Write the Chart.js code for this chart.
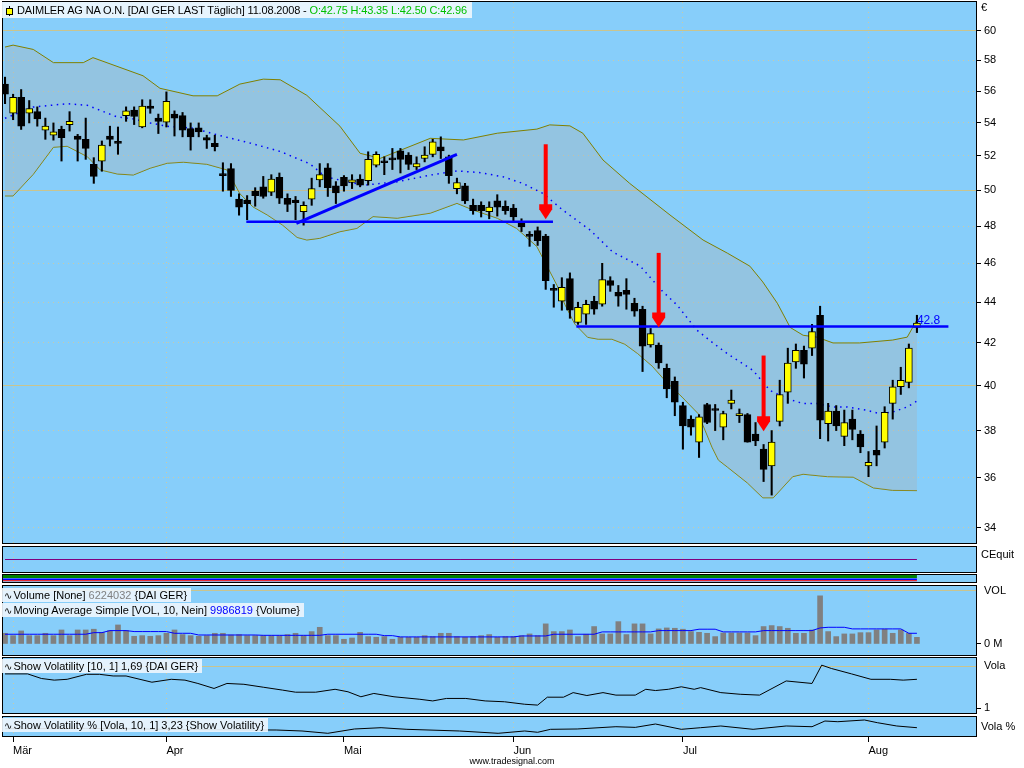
<!DOCTYPE html>
<html>
<head>
<meta charset="utf-8">
<title>DAIMLER AG NA O.N.</title>
<script src="https://cdn.jsdelivr.net/npm/chart.js@4.4.1/dist/chart.umd.min.js"></script>
<style>
  body { margin: 0; width: 1024px; height: 768px; background: #fff; position: relative; overflow: hidden;
         font-family: "Liberation Sans", Arial, sans-serif; font-size: 11px; color: #000; }
  .panel { position: absolute; left: 0; width: 1024px; }
  .title { position: absolute; left: 2px; height: 14px; line-height: 14px; padding: 0 4px 0 2px;
           background: rgba(238, 246, 253, 0.9); white-space: nowrap; z-index: 5; }
  .side { position: absolute; left: 981px; white-space: nowrap; z-index: 5; }
  .wave { font-family: "DejaVu Sans"; font-size: 10px; margin-right: 1px; }
  #mainTitle { position: absolute; left: 2px; top: 2px; height: 16px; line-height: 16px; padding: 0 5px 0 15px;
               background: rgba(235, 245, 253, 0.95); white-space: nowrap; z-index: 5; letter-spacing: -0.15px; }
  #icon { position: absolute; left: 7px; top: 4px; width: 1px; height: 10px; background: #000; }
  #icon:after { content: ""; position: absolute; left: -3px; top: 2px; width: 5px; height: 5px;
                background: #ff0; border: 1px solid #000; }
  #footer { position: absolute; left: 0; width: 1024px; top: 756px; text-align: center; font-size: 9px; }
</style>
</head>
<body>
<div class="panel" style="top:0;height:546px"><canvas id="mainChart"></canvas></div>
<div class="panel" style="top:545px;height:29px"><canvas id="equityChart"></canvas></div>
<div class="panel" style="top:574px;height:10px"><canvas id="stripeChart"></canvas></div>
<div class="panel" style="top:585px;height:71px"><canvas id="volumeChart"></canvas></div>
<div class="panel" style="top:657px;height:57px"><canvas id="volaChart"></canvas></div>
<div class="panel" style="top:716px;height:44px"><canvas id="volaPctChart"></canvas></div>

<div id="mainTitle"><span id="icon"></span>DAIMLER AG NA O.N. [DAI GER LAST Täglich] 11.08.2008 - <span style="color:#00c000">O:42.75 H:43.35 L:42.50 C:42.96</span></div>
<div class="side" style="top:1px">€</div>
<div class="side" style="top:548px">CEquit</div>
<div class="title" style="top:588px"><span class="wave">∿</span>Volume [None] <span style="color:#808080">6224032</span> {DAI GER}</div>
<div class="title" style="top:603px"><span class="wave">∿</span>Moving Average Simple [VOL, 10, Nein] <span style="color:#0000ff">9986819</span> {Volume}</div>
<div class="title" style="top:659px"><span class="wave">∿</span>Show Volatility [10, 1] 1,69 {DAI GER}</div>
<div class="title" style="top:718px"><span class="wave">∿</span>Show Volatility % [Vola, 10, 1] 3,23 {Show Volatility}</div>
<div class="side" style="top:720px">Vola %</div>
<div id="footer">www.tradesignal.com</div>

<script>
// Daily candles, 29.02.2008 - 11.08.2008 (index 0..113)
const opens = [56.45,54.6,55.6,54.6,54.7,53.55,53.25,53.6,53.9,53.2,
  53.0,51.5,51.7,53.2,52.85,54.45,54.8,53.75,55.05,54.3,
  54.05,54.55,54.45,53.65,53.7,53.1,52.75,50.9,51.25,49.5,
  49.45,49.95,50.2,49.9,50.75,49.55,49.45,48.8,49.5,50.6,
  51.3,50.25,50.75,50.45,50.65,50.55,51.45,51.7,51.8,52.3,
  52.05,51.35,51.85,52.1,52.55,51.95,50.1,50.25,49.15,49.15,
  48.8,49.4,49.1,49.0,48.2,47.48,47.75,47.45,44.65,44.05,
  45.2,43.0,43.4,44.05,43.9,45.1,44.5,44.6,43.95,43.65,
  41.9,41.9,40.8,40.2,39.1,38.5,37.5,39.15,38.92,38.15,
  39.2,38.65,38.7,37.85,37.2,36.5,38.4,39.7,41.1,41.65,
  41.75,43.35,38.3,38.85,37.75,38.5,37.85,36.5,37.15,37.5,
  39.2,39.95,40.15,42.75];
const highs = [56.9,55.8,56.1,55.4,55.0,54.3,54.0,53.8,54.7,53.3,
  54.3,51.9,52.9,53.8,53.75,55.0,55.0,55.45,55.45,54.55,
  55.95,54.75,54.65,54.0,54.0,53.25,53.25,51.6,51.55,49.8,
  49.7,50.15,50.8,50.9,51.0,49.8,49.65,49.35,50.7,51.55,
  51.55,50.5,50.85,50.9,50.9,52.25,52.25,51.95,52.45,52.45,
  52.2,51.95,52.55,53.0,53.15,52.05,50.7,50.4,49.5,49.35,
  49.35,49.75,49.4,49.2,48.4,47.7,47.95,47.55,44.9,45.25,
  45.5,44.0,44.1,44.3,46.0,45.3,44.85,45.2,44.2,43.8,
  42.7,42.0,41.0,40.4,39.25,38.65,38.7,39.2,39.15,38.85,
  39.8,38.95,38.75,38.35,37.4,38.0,40.25,41.75,41.95,41.85,
  42.9,43.8,39.2,39.1,38.9,38.9,38.0,37.1,38.2,39.05,
  40.25,40.85,41.95,43.35];
const lows = [55.2,54.2,53.6,54.0,53.8,53.0,52.95,51.7,53.5,51.7,
  51.8,50.4,51.1,52.6,52.1,54.1,53.9,53.7,54.6,53.35,
  53.75,53.2,53.15,52.35,53.15,52.45,52.3,49.95,49.65,48.6,
  48.35,49.1,49.55,49.7,49.25,48.8,48.35,48.05,49.15,50.2,
  49.65,49.25,49.95,50.1,50.2,50.3,51.35,50.9,51.2,51.0,
  51.2,51.2,51.65,51.95,51.85,50.4,49.8,49.25,48.65,48.5,
  48.4,48.55,48.65,48.25,47.7,46.9,46.95,44.65,43.75,43.6,
  43.2,42.9,42.9,43.4,43.8,44.55,43.8,43.65,43.3,40.65,
  41.8,40.8,39.45,38.65,37.2,37.8,36.85,38.3,38.0,37.6,
  38.95,38.35,37.5,37.35,35.85,35.3,38.2,39.2,40.8,40.35,
  41.4,37.65,37.55,38.0,37.35,37.6,37.05,36.05,36.5,37.25,
  38.5,39.6,39.9,42.5];
const closes = [55.8,55.6,53.8,54.9,54.25,53.8,53.45,53.1,54.1,53.0,
  52.45,50.8,52.65,53.0,52.75,54.75,54.4,55.05,54.9,54.1,
  55.35,54.3,53.55,53.15,53.45,52.95,52.55,50.85,50.0,49.05,
  49.25,49.7,49.65,50.65,49.55,49.2,49.3,49.15,50.1,50.9,
  50.15,49.85,50.25,50.6,50.3,51.8,52.1,51.6,51.77,51.8,
  51.5,51.55,52.05,52.85,52.3,50.85,50.45,49.4,48.85,48.85,
  49.05,49.05,48.85,48.5,47.95,47.44,47.2,45.1,44.6,44.75,
  43.6,43.75,43.9,43.65,45.15,44.85,44.3,44.4,43.55,41.85,
  42.45,41.05,39.85,39.25,38.2,38.15,38.6,38.35,38.88,38.75,
  39.35,38.75,37.5,37.55,36.35,37.5,39.6,41.05,41.65,41.0,
  42.55,38.45,38.85,38.2,38.35,38.05,37.3,36.65,36.95,38.8,
  39.95,40.25,41.75,42.96];

// Bollinger bands and their middle line (candle index, price)
const upperIdx = [0,1,3.5,6,9.7,10.9,17.1,19.2,23.3,26.3,29.1,32,34.1,37.4,41.5,44,46.5,52.7,56.8,61,
  65.9,67.5,70,71.6,74.1,77.4,82.4,86.5,89.5,92.3,93.9,95.7,97.3,98.9,100.6,102.6,105.9,110,111.8,113];
const upperVal = [58.89,59.02,58.73,57.85,57.85,58.18,56.99,56.18,55.7,55.7,56.45,56.77,56.73,55.73,53.8,52.16,51.86,53.06,52.96,53.37,
  53.62,53.88,53.82,53.37,51.76,50.4,48.61,47.24,46.54,45.85,45.03,43.95,42.75,42.37,42.28,42.0,42.0,42.14,42.28,43.12];
const lowerIdx = [0,1,3.5,6,7.7,10.2,11.8,13.9,15.9,18,20.1,22.1,25,27.5,29.1,30.7,32.5,34.4,36.2,37.4,
  39,41.5,43.6,45.6,48.6,52.7,56,58,61,63.4,65.9,68.4,69.4,70.6,72.2,73.5,75.2,76.8,78.4,80.2,
  81.8,83.9,85.9,87.6,88.4,89.5,92,93.9,95.2,97.6,98.9,101.9,105.1,107.6,110,113];
const lowerVal = [49.68,49.68,50.92,52.52,52.58,51.96,51.18,50.94,50.88,51.28,51.57,51.63,51.51,51.18,49.81,49.07,48.61,48.05,47.38,47.24,
  47.33,47.69,47.87,48.52,48.43,48.71,49.26,48.89,48.43,47.87,46.89,44.86,43.87,42.92,42.27,42.18,42.18,41.94,41.49,40.9,
  40.23,39.48,38.74,37.29,36.74,36.45,35.79,35.19,35.19,36.05,36.15,36.05,36.03,35.59,35.49,35.48];
const maIdx = [0,3.5,7.7,10.2,13.9,15.9,18,20.1,23.3,26.3,30.4,34.1,37.8,39.7,41.5,44.4,48.6,52.7,56,58.9,
  61.7,64.2,66.7,69.1,72.5,75.3,78.7,81.5,83.3,85.7,87.4,89.5,92.7,94.8,96.9,98.9,100.6,102.6,104.3,106.8,
  108.4,110,111.8,113];
const maVal = [54.29,54.99,55.2,55.1,54.37,54.25,54.0,53.79,53.68,53.27,52.77,52.27,51.53,50.78,50.59,50.29,50.49,50.88,51.12,51.02,
  50.78,50.39,49.81,48.89,47.78,46.6,45.86,44.54,43.85,42.63,42.1,41.49,40.7,39.78,39.41,39.19,39.19,39.04,39.04,38.89,
  38.74,38.81,39.04,39.3];

// Drawn lines and arrows
const trendIdx = [36.1, 56.0];
const trendVal = [48.15, 52.1];
const supportIdx = [29.9, 67.9];
const supportVal = 48.24;
const resistIdx = [70.8, 116.9];
const resistVal = 42.8;
const resistLabelIdx = 113.0;
const arrowIdx = [67, 81, 94];
const arrowTop = [52.7, 46.55, 41.4];
const arrowTip = [48.37, 42.75, 37.97];

// Volume (millions) and its 10-day average
const volume = [10.0,7.8,12.2,7.8,7.8,10.0,7.8,13.1,7.8,13.1,
  13.1,13.8,10.9,12.5,17.8,12.5,7.2,7.8,7.2,7.8,
  10.0,13.1,8.8,7.8,7.2,7.8,10.0,10.0,8.4,8.8,
  7.8,7.8,7.8,7.8,7.8,8.8,10.0,7.8,11.6,15.6,
  7.8,7.8,4.4,5.6,10.9,6.9,6.3,6.9,4.4,6.3,
  6.3,6.3,7.8,6.9,10.0,10.0,6.9,6.3,6.9,7.8,
  8.8,6.3,6.9,6.9,7.8,9.4,7.8,18.8,11.6,11.6,
  13.1,6.9,9.1,16.3,9.4,9.4,20.9,8.8,18.8,18.8,
  9.4,14.1,15.0,14.7,13.8,11.6,10.9,10.0,6.9,10.3,
  10.3,10.3,10.3,7.8,16.3,17.2,16.3,14.7,10.0,10.0,
  13.1,45.0,11.6,6.9,9.4,9.4,10.6,10.6,13.1,13.8,
  10.0,13.1,10.0,6.2];
const volumeMA = [9.1,9.1,9.1,9.1,9.1,9.1,9.1,9.1,9.1,9.1,
  9.1,10.6,10.6,12.5,12.5,12.5,11.6,11.6,11.6,11.6,
  11.6,10.0,10.0,10.0,8.4,8.4,8.4,8.4,8.4,8.4,
  8.4,8.4,8.1,8.1,8.1,8.1,8.1,8.1,8.1,8.1,
  9.1,9.1,9.1,9.1,9.1,9.1,9.1,7.8,7.8,6.6,
  6.6,6.6,6.6,6.6,6.6,6.6,6.6,6.6,6.6,6.6,
  6.6,6.6,6.6,6.6,7.5,7.5,7.5,7.5,9.1,9.1,
  9.1,9.1,9.1,9.1,11.3,11.3,11.3,11.3,11.3,11.3,
  11.3,12.5,12.5,12.5,12.5,12.5,13.8,13.8,13.8,11.3,
  11.3,11.3,11.3,11.3,12.5,12.5,12.5,12.5,12.5,12.5,
  12.5,15.0,15.6,15.6,15.6,14.1,14.1,14.1,14.1,14.1,
  14.1,14.1,10.0,10.0];

// Volatility panels
const volaIdx = [0,2.8,4.5,6.1,7.7,10.1,11.7,13.4,15,18.2,20.6,22.3,23.9,25.9,27.5,29.6,32,34.4,36,38.5,
  40.9,42.5,44.1,45.7,48.2,51.4,53,54.7,57.1,59.5,61.9,64.4,66,67.2,69.2,70.4,72.1,74.1,75.7,78.1,
  79.4,80.6,82.2,83.8,85.4,86.2,88.7,91.1,93.5,96.8,100,101.2,102.4,104.9,107.3,109.7,111.3,113];
const volaVal = [1.82,1.82,1.71,1.67,1.69,1.81,1.81,1.77,1.77,1.62,1.69,1.67,1.59,1.47,1.59,1.57,1.50,1.43,1.38,1.38,
  1.45,1.39,1.27,1.35,1.27,1.21,1.17,1.23,1.23,1.17,1.15,1.09,1.07,1.26,1.26,1.37,1.30,1.37,1.31,1.31,
  1.45,1.42,1.45,1.51,1.45,1.49,1.37,1.33,1.31,1.65,1.59,2.03,1.95,1.82,1.69,1.69,1.67,1.69];
const volaPctIdx = [0,10,20,28,33.6,36.8,40,43.3,46.6,49.8,56.3,61.1,64.4,66,67.6,70.9,75.7,78.1,80.6,83.8,
  86.2,88.7,92.7,96.8,100,101.6,103.2,106.5,108.1,110.5,113];
const volaPctVal = [2.9,3.0,2.7,2.5,2.46,2.13,1.36,2.8,3.23,2.69,2.13,1.36,2.13,1.7,2.69,2.8,3.56,3.34,4.46,2.69,
  3.23,3.8,2.69,3.8,3.56,5.46,5.23,5.8,4.9,3.8,3.23];

// Equity and signal stripe
const equityIdx = [0, 113];
const equityVal = [0.5, 0.5];
const stripeIdx = [-0.25, 113];
const stripeGreen = 3.14, stripeBlue = 1.54, stripeRed = 0.74;

// Axis ticks
const priceTicks = [34, 36, 38, 40, 42, 44, 46, 48, 50, 52, 54, 56, 58, 60];
const solidPrices = [40, 50, 60];
const monthIdx = [1, 20, 42, 63, 84, 107];
const monthNames = ['Mär', 'Apr', 'Mai', 'Jun', 'Jul', 'Aug'];
const volTicks = [0, 50];
const volaTicks = [1, 2];

const X_MIN = -0.25, X_MAX = 120.32;
const SKY = '#87CEFA';
const GRID_DOT = 'rgba(206,202,160,0.95)';
const GRID_SOLID = '#C9C48E';
const NONE = 'rgba(0,0,0,0)';

Chart.defaults.font.family = '"Liberation Sans", Arial, sans-serif';
Chart.defaults.font.size = 11;
Chart.defaults.color = '#000';
Chart.defaults.animation = false;
Chart.defaults.plugins.legend.display = false;
Chart.defaults.plugins.tooltip.enabled = false;
Chart.defaults.elements.point.radius = 0;
Chart.defaults.elements.line.tension = 0;

const pts = (xs, ys) => xs.map((x, k) => ({ x: x, y: Array.isArray(ys) ? ys[k] : ys }));

function noPad(s) { s.paddingLeft = 0; s.paddingRight = 0; s.paddingTop = 0; s.paddingBottom = 0; }

// panel background and black frame
const panelFrame = {
  id: 'panelFrame',
  beforeDraw(chart) {
    const { ctx, chartArea: a } = chart;
    ctx.save();
    ctx.fillStyle = SKY;
    ctx.fillRect(a.left, a.top, a.right - a.left, a.bottom - a.top);
    ctx.restore();
  },
  afterDraw(chart) {
    const { ctx, chartArea: a } = chart;
    ctx.save();
    ctx.strokeStyle = '#000';
    ctx.lineWidth = 1;
    ctx.strokeRect(a.left - 0.5, a.top - 0.5, a.right - a.left + 1, a.bottom - a.top + 1);
    ctx.restore();
  }
};

// red arrows and the level label
const annotations = {
  id: 'annotations',
  afterDatasetsDraw(chart) {
    const { ctx, scales: { x, y } } = chart;
    ctx.save();
    ctx.fillStyle = '#ff0000';
    arrowIdx.forEach((idx, k) => {
      const px = x.getPixelForValue(idx);
      const top = y.getPixelForValue(arrowTop[k]);
      const tip = y.getPixelForValue(arrowTip[k]);
      ctx.fillRect(px - 2, top, 4, tip - top - 12);
      ctx.beginPath();
      ctx.moveTo(px - 6.5, tip - 15);
      ctx.lineTo(px + 6.5, tip - 15);
      ctx.lineTo(px + 6.5, tip - 10);
      ctx.lineTo(px, tip);
      ctx.lineTo(px - 6.5, tip - 10);
      ctx.closePath();
      ctx.fill();
    });
    ctx.fillStyle = '#0000ff';
    ctx.font = '12px "Liberation Sans", Arial, sans-serif';
    ctx.textBaseline = 'alphabetic';
    ctx.fillText(String(resistVal), x.getPixelForValue(resistLabelIdx), y.getPixelForValue(resistVal) - 2);
    ctx.restore();
  }
};

function timeAxis(labels) {
  return {
    type: 'linear', min: X_MIN, max: X_MAX, offset: false,
    afterBuildTicks: s => { s.ticks = monthIdx.map(v => ({ value: v })); },
    afterFit: s => { s.height = labels ? 24 : 0; noPad(s); },
    ticks: {
      display: labels, autoSkip: false, maxRotation: 0, minRotation: 0, align: 'start', padding: 2,
      callback: v => monthNames[monthIdx.indexOf(v)]
    },
    grid: { color: GRID_DOT, offset: false, drawTicks: labels, tickLength: 6, tickColor: '#000' },
    border: { display: false, dash: [1, 4] }
  };
}

function rightAxis(opts) {
  return Object.assign({ position: 'right', afterFit: s => { s.width = 48; noPad(s); } }, opts);
}

function options(pad, scales) {
  return {
    responsive: true,
    maintainAspectRatio: false,
    layout: { autoPadding: false, padding: pad },
    scales: scales
  };
}

// main price panel
new Chart(document.getElementById('mainChart'), {
  type: 'bar',
  data: {
    datasets: [
      { type: 'line', label: 'Resistance', data: pts(resistIdx, resistVal), borderColor: '#0000ff', borderWidth: 2.5, order: 0 },
      { type: 'line', label: 'Support', data: pts(supportIdx, supportVal), borderColor: '#0000ff', borderWidth: 2.5, order: 0 },
      { type: 'line', label: 'Trend', data: pts(trendIdx, trendVal), borderColor: '#0000ff', borderWidth: 3, order: 0 },
      {
        type: 'bar', label: 'Body', data: opens.map((o, i) => ({ x: i, y: [o, closes[i]] })),
        backgroundColor: opens.map((o, i) => closes[i] >= o ? '#ffff00' : '#000000'),
        borderColor: '#000', borderWidth: 1, borderSkipped: false,
        barThickness: 7, minBarLength: 2, grouped: false, order: 1
      },
      {
        type: 'bar', label: 'Wick', data: highs.map((h, i) => ({ x: i, y: [lows[i], h] })),
        backgroundColor: '#000', borderWidth: 0, barThickness: 1.4, grouped: false, order: 2
      },
      { type: 'line', label: 'Middle', data: pts(maIdx, maVal), borderColor: '#0000ff', borderWidth: 1.5, borderDash: [1.5, 4.5], order: 3 },
      {
        type: 'line', label: 'Upper', data: pts(upperIdx, upperVal), borderColor: '#808000', borderWidth: 1,
        fill: '+1', backgroundColor: 'rgba(175,175,175,0.32)', order: 4
      },
      { type: 'line', label: 'Lower', data: pts(lowerIdx, lowerVal), borderColor: '#808000', borderWidth: 1, order: 4 }
    ]
  },
  options: options({ left: 3, right: 0, top: 2, bottom: 3 }, {
    x: timeAxis(false),
    y: rightAxis({
      type: 'logarithmic', min: 33.42, max: 62.0,
      afterBuildTicks: s => { s.ticks = priceTicks.map(v => ({ value: v })); },
      ticks: { autoSkip: false, padding: 3, callback: v => String(v) },
      grid: {
        color: c => solidPrices.includes(c.tick && c.tick.value) ? GRID_SOLID : GRID_DOT,
        tickLength: 5, tickColor: '#000'
      },
      border: { display: false, dash: c => solidPrices.includes(c.tick && c.tick.value) ? [] : [1, 4] }
    })
  }),
  plugins: [panelFrame, annotations]
});

// CEquity panel
new Chart(document.getElementById('equityChart'), {
  type: 'line',
  data: { datasets: [{ label: 'CEquity', data: pts(equityIdx, equityVal), borderColor: '#800080', borderWidth: 1 }] },
  options: options({ left: 3, right: 48, top: 2, bottom: 2 }, {
    x: timeAxis(false),
    y: { display: false, min: 0, max: 1 }
  }),
  plugins: [panelFrame]
});

// signal stripe
new Chart(document.getElementById('stripeChart'), {
  type: 'line',
  data: {
    datasets: [
      { label: 'red', data: pts(stripeIdx, stripeRed), borderColor: '#ff0000', borderWidth: 1 },
      { label: 'blue', data: pts(stripeIdx, stripeBlue), borderColor: '#0000ff', borderWidth: 1.5 },
      { label: 'green', data: pts(stripeIdx, stripeGreen), borderColor: '#008000', borderWidth: 3 }
    ]
  },
  options: options({ left: 3, right: 48, top: 1, bottom: 2 }, {
    x: { type: 'linear', display: false, min: X_MIN, max: X_MAX },
    y: { display: false, min: 0, max: 4 }
  }),
  plugins: [panelFrame]
});

// volume panel
new Chart(document.getElementById('volumeChart'), {
  type: 'bar',
  data: {
    datasets: [
      { type: 'line', label: 'Volume MA', data: volumeMA.map((v, i) => ({ x: i, y: v })), borderColor: '#0000ff', borderWidth: 1, order: 0 },
      { type: 'bar', label: 'Volume', data: volume.map((v, i) => ({ x: i, y: v })), backgroundColor: '#808080', barThickness: 5, order: 1 }
    ]
  },
  options: options({ left: 3, right: 0, top: 1, bottom: 1 }, {
    x: timeAxis(false),
    y: rightAxis({
      type: 'linear', min: -10.3, max: 54.2,
      afterBuildTicks: s => { s.ticks = volTicks.map(v => ({ value: v })); },
      ticks: { autoSkip: false, padding: 3, callback: v => v === 0 ? '0 M' : 'VOL' },
      grid: {
        color: c => c.tick && c.tick.value === 50 ? GRID_SOLID : NONE,
        tickLength: 5, tickColor: c => c.tick && c.tick.value === 0 ? '#000' : NONE
      },
      border: { display: false }
    })
  }),
  plugins: [panelFrame]
});

// volatility panel
new Chart(document.getElementById('volaChart'), {
  type: 'line',
  data: { datasets: [{ label: 'Vola', data: pts(volaIdx, volaVal), borderColor: '#000', borderWidth: 1 }] },
  options: options({ left: 3, right: 0, top: 1, bottom: 1 }, {
    x: timeAxis(false),
    y: rightAxis({
      type: 'linear', min: 0.88, max: 2.202,
      afterBuildTicks: s => { s.ticks = volaTicks.map(v => ({ value: v })); },
      ticks: { autoSkip: false, padding: 3, callback: v => v === 1 ? '1' : 'Vola' },
      grid: {
        color: c => c.tick && c.tick.value === 2 ? GRID_SOLID : NONE,
        tickLength: 5, tickColor: c => c.tick && c.tick.value === 1 ? '#000' : NONE
      },
      border: { display: false }
    })
  }),
  plugins: [panelFrame]
});

// volatility % panel with the month axis
new Chart(document.getElementById('volaPctChart'), {
  type: 'line',
  data: { datasets: [{ label: 'Vola %', data: pts(volaPctIdx, volaPctVal), borderColor: '#000', borderWidth: 1 }] },
  options: options({ left: 3, right: 48, top: 1, bottom: 0 }, {
    x: timeAxis(true),
    y: { display: false, min: 0.46, max: 6.8 }
  }),
  plugins: [panelFrame]
});
</script>
</body>
</html>
